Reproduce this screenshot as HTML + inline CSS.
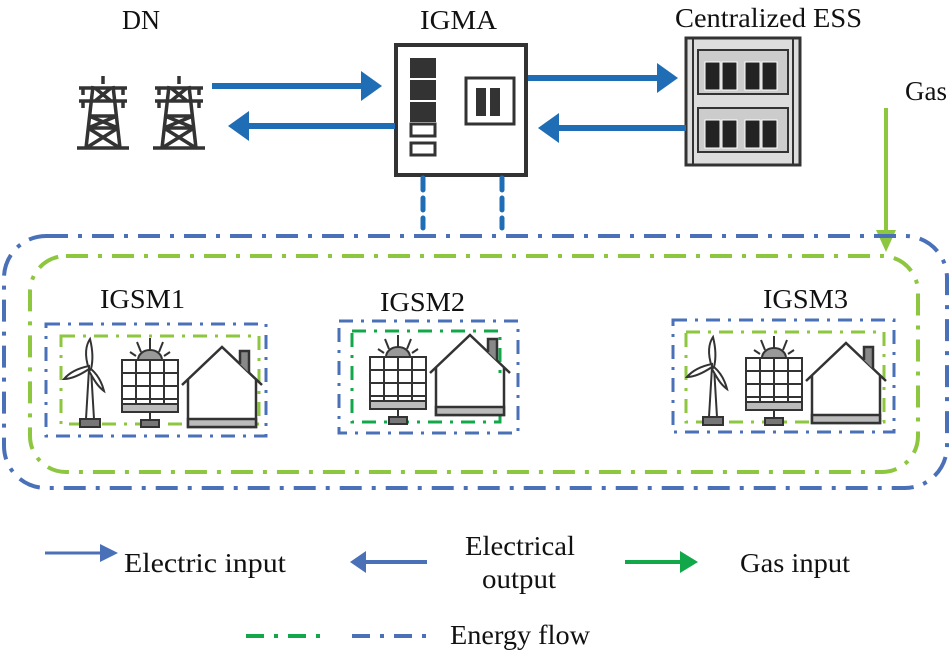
<!DOCTYPE html>
<html><head><meta charset="utf-8"><style>
body{margin:0;background:#fff}
svg{display:block}
text{font-family:"Liberation Serif",serif;fill:#111;font-size:27px}
</style></head><body>
<svg width="951" height="650" viewBox="0 0 951 650" xmlns="http://www.w3.org/2000/svg">
<defs>
<g id="tower" fill="none" stroke="#333" stroke-width="3.5">
<path d="M28 0 V8 M4 12 H52 M8 12 V19 M48 12 V19 M4 25 H52 M8 25 V32 M48 32 V25 M18 10 L11 72 M38 10 L45 72 M14 40 H42 M13 52 H43 M14 40 L43 52 M42 40 L13 52 M13 52 L45 72 M43 52 L11 72 M2 72 H54 M20 12 L36 25 M36 12 L20 25"/>
</g>
<g id="turbine" fill="none" stroke="#333" stroke-width="2">
<path d="M25 24 L22 74 M27 24 L30 74"/>
<path d="M25 24 C20 10 22 0 26 -6 C29 6 29 16 27 24 Z" fill="#fff"/>
<path d="M25 24 C16 30 7 34 0 34 C6 27 15 23 25 21 Z" fill="#fff"/>
<path d="M27 24 C34 30 38 38 40 46 C33 41 29 33 25 26 Z" fill="#fff"/>
<rect x="16" y="74" width="20" height="8" fill="#777" stroke="#333"/>
</g>
<g id="panel" stroke="#333" stroke-width="2" fill="none">
<path d="M16 12 A12 10 0 0 1 40 12 Z" fill="#999"/>
<path d="M28 -10 V2 M15 -6 L19 4 M41 -6 L37 4 M8 4 L14 8 M48 4 L42 8"/>
<rect x="0" y="12" width="56" height="52" fill="#fff"/>
<path d="M14 12 V56 M28 12 V56 M42 12 V56 M0 25 H56 M0 38 H56 M0 51 H56"/>
<rect x="0" y="56" width="56" height="8" fill="#bbb"/>
<path d="M28 64 V72"/><rect x="19" y="72" width="18" height="7" fill="#777"/>
</g>
<g id="house" stroke="#333" stroke-width="2.5" fill="#fff">
<path d="M0 38 L40 0 L80 38 M6 32 V80 H74 V32" />
<path d="M58 17 V4 H67 V26" fill="#888"/>
<rect x="6" y="72" width="68" height="8" fill="#bbb"/>
</g>
<marker id="ab" markerWidth="5" markerHeight="5" refX="2.5" refY="2.5" orient="auto"><path d="M0 0 L3.5 2.5 L0 5 Z" fill="#1f6db5"/></marker>
</defs>

<text x="122" y="29" textLength="38" lengthAdjust="spacingAndGlyphs">DN</text>
<text x="420" y="29" textLength="77" lengthAdjust="spacingAndGlyphs">IGMA</text>
<text x="675" y="27" textLength="187" lengthAdjust="spacingAndGlyphs">Centralized ESS</text>
<text x="905" y="100" textLength="42" lengthAdjust="spacingAndGlyphs">Gas</text>

<use href="#tower" x="75" y="76"/>
<use href="#tower" x="151" y="76"/>

<rect x="396" y="45" width="130" height="130" fill="#fff" stroke="#333" stroke-width="4"/>
<rect x="410" y="58" width="26" height="20" fill="#333"/>
<rect x="410" y="80" width="26" height="20" fill="#333"/>
<rect x="410" y="102" width="26" height="20" fill="#333"/>
<rect x="411" y="124" width="24" height="12" fill="#fff" stroke="#333" stroke-width="3"/>
<rect x="411" y="143" width="24" height="12" fill="#fff" stroke="#333" stroke-width="3"/>
<rect x="466" y="78" width="48" height="46" fill="#fff" stroke="#333" stroke-width="3"/>
<rect x="476" y="88" width="10" height="28" fill="#333"/>
<rect x="490" y="88" width="10" height="28" fill="#333"/>

<rect x="686" y="38" width="114" height="127" fill="#ddd" stroke="#333" stroke-width="3"/>
<path d="M693 38 V165 M793 38 V165" stroke="#333" stroke-width="2"/>
<rect x="698" y="50" width="90" height="44" fill="#ccc" stroke="#333" stroke-width="2"/>
<rect x="698" y="108" width="90" height="44" fill="#ccc" stroke="#333" stroke-width="2"/>
<g fill="#222" stroke="#fff" stroke-width="1">
<rect x="705" y="62" width="15" height="28"/><rect x="722" y="62" width="15" height="28"/><rect x="745" y="62" width="15" height="28"/><rect x="762" y="62" width="15" height="28"/>
<rect x="705" y="120" width="15" height="28"/><rect x="722" y="120" width="15" height="28"/><rect x="745" y="120" width="15" height="28"/><rect x="762" y="120" width="15" height="28"/>
</g>

<g stroke="#1f6db5" stroke-width="6" fill="none" marker-end="url(#ab)">
<path d="M212 86 H376"/>
<path d="M395 126 H234"/>
<path d="M528 78 H672"/>
<path d="M686 128 H544"/>
</g>
<g stroke="#1f6db5" stroke-width="5" stroke-dasharray="12 8" stroke-linecap="round">
<path d="M423 178 V228"/><path d="M502 178 V228"/>
</g>
<path d="M886 108 V236" stroke="#8dc63f" stroke-width="4"/>
<path d="M876 230 L886 252 L896 230 Z" fill="#8dc63f"/>

<rect x="4" y="236" width="943" height="252" rx="42" fill="none" stroke="#4a70b8" stroke-width="4" stroke-dasharray="22 10 4 10"/>
<rect x="30" y="256" width="888" height="216" rx="36" fill="none" stroke="#8dc63f" stroke-width="4" stroke-dasharray="22 10 4 10"/>

<text x="100" y="308" textLength="85" lengthAdjust="spacingAndGlyphs">IGSM1</text>
<text x="380" y="311" textLength="85" lengthAdjust="spacingAndGlyphs">IGSM2</text>
<text x="763" y="308" textLength="85" lengthAdjust="spacingAndGlyphs">IGSM3</text>

<g fill="none" stroke-width="3" stroke-dasharray="14 8 3 8">
<rect x="46" y="324" width="220" height="112" stroke="#4a70b8"/>
<rect x="61" y="336" width="198" height="88" stroke="#8dc63f"/>
<rect x="339" y="321" width="179" height="112" stroke="#4a70b8"/>
<rect x="352" y="331" width="148" height="91" stroke="#12a84a"/>
<rect x="673" y="320" width="221" height="112" stroke="#4a70b8"/>
<rect x="686" y="332" width="198" height="90" stroke="#8dc63f"/>
</g>

<use href="#turbine" x="64" y="345"/>
<use href="#panel" x="122" y="348"/>
<use href="#house" x="182" y="347"/>

<use href="#panel" x="370" y="345"/>
<use href="#house" x="430" y="335"/>

<use href="#turbine" x="687" y="343"/>
<use href="#panel" x="746" y="346"/>
<use href="#house" x="806" y="343"/>

<path d="M45 553 H102" stroke="#4a70b8" stroke-width="3"/>
<path d="M100 544 L118 553 L100 562 Z" fill="#4a70b8"/>
<text x="124" y="572" textLength="162" lengthAdjust="spacingAndGlyphs">Electric  input</text>
<path d="M364 562 H427" stroke="#4a70b8" stroke-width="4"/>
<path d="M366 551 L350 562 L366 573 Z" fill="#4a70b8"/>
<text x="465" y="555" textLength="110" lengthAdjust="spacingAndGlyphs">Electrical</text>
<text x="482" y="588" textLength="74" lengthAdjust="spacingAndGlyphs">output</text>
<path d="M625 562 H682" stroke="#12a84a" stroke-width="4"/>
<path d="M680 551 L698 562 L680 573 Z" fill="#12a84a"/>
<text x="740" y="572" textLength="110" lengthAdjust="spacingAndGlyphs">Gas input</text>
<path d="M246 636 H325" stroke="#12a84a" stroke-width="4" stroke-dasharray="18 10 4 10"/>
<path d="M352 636 H430" stroke="#4a70b8" stroke-width="4" stroke-dasharray="18 10 4 10"/>
<text x="450" y="644" textLength="140" lengthAdjust="spacingAndGlyphs">Energy flow</text>
</svg>
</body></html>
